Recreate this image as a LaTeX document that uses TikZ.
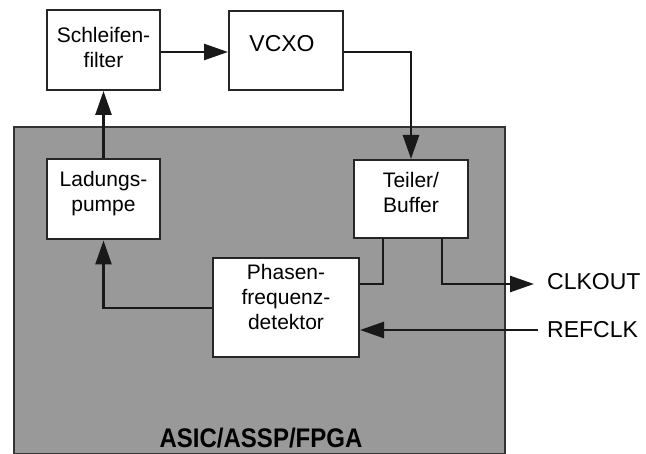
\documentclass[tikz,border=0pt]{standalone}
\usepackage{fontspec}
\setmainfont{Liberation Sans}
\usetikzlibrary{arrows.meta}
\begin{document}
\begin{tikzpicture}[x=1pt,y=-1pt,
  blk/.style={draw=black!85, line width=2pt, fill=white, inner sep=0pt},
  lbl/.style={font=\fontsize{21}{25}\selectfont, align=center, anchor=north, inner sep=0pt},
  wire/.style={draw=black!90, line width=2.6pt},
  arr/.style={wire, -{Triangle[length=24pt,width=16pt]}},
  sig/.style={font=\fontsize{23}{27}\selectfont, anchor=west, inner sep=0pt}]
\useasboundingbox (0,0) rectangle (646,454);
\node[draw=black!80, line width=2pt, fill=black!40, minimum width=491pt, minimum height=327pt, inner sep=0pt, anchor=north west] (chip) at (13,126) {};
\node[anchor=center, inner sep=0pt, font=\bfseries\fontsize{24}{28}\selectfont] (chiplbl) at (261,438) {\scalebox{1}[1.12]{ASIC/ASSP/FPGA}};
\node[blk, minimum width=113pt, minimum height=80pt] (sf) at (103.5,50) {};
\node[lbl] (sft) at ([yshift=-18pt]sf.north) {Schleifen-\\filter};
\node[blk, minimum width=114pt, minimum height=79pt] (vcxo) at (286,50.5) {};
\node[lbl, font=\fontsize{23}{27}\selectfont] (vcxot) at ([xshift=-4pt,yshift=-25pt]vcxo.north) {VCXO};
\node[blk, minimum width=113pt, minimum height=80pt] (lp) at (103.5,199.5) {};
\node[lbl] (lpt) at ([yshift=-13pt]lp.north) {Ladungs-\\pumpe};
\node[blk, minimum width=114pt, minimum height=78pt] (tb) at (411,199) {};
\node[lbl] (tbt) at ([yshift=-13pt]tb.north) {Teiler/\\Buffer};
\node[blk, minimum width=146pt, minimum height=99pt] (pfd) at (286,307.5) {};
\node[lbl] (pfdt) at ([yshift=-7pt]pfd.north) {Phasen-\\frequenz-\\detektor};
\coordinate (clkend) at (534,284);
\coordinate (refstart) at (538,330);
\node[sig] (clkout) at (547,282) {CLKOUT};
\node[sig] (refclk) at (547,330) {REFCLK};
\draw[arr] (sf.east |- 0,52) -- (vcxo.west |- 0,52);
\draw[arr] (lp.north) -- (sf.south);
\draw[arr] (vcxo.east |- 0,52) -| (tb.north);
\draw[wire] (383,238) |- (pfd.east |- 0,284);
\draw[arr] (442,238) |- (clkend);
\draw[arr] (refstart) -- (pfd.east |- refstart);
\draw[arr] (pfd.west |- 0,308) -| (lp.south);
\end{tikzpicture}
\end{document}
